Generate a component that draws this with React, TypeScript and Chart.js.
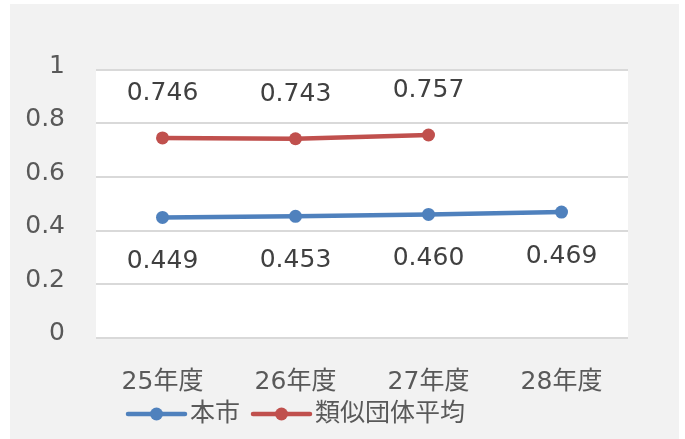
import React, { useEffect, useRef } from "react";
import { Chart, registerables } from "chart.js";

Chart.register(...registerables);

const categories = ["25年度", "26年度", "27年度", "28年度"];
const cityValues = [0.449, 0.453, 0.46, 0.469];
const peerValues: (number | null)[] = [0.746, 0.743, 0.757, null];
const seriesNames = ["本市", "類似団体平均"];
const yTicks = [0, 0.2, 0.4, 0.6, 0.8, 1];

const BLUE = "#4f81bd";
const RED = "#c0504d";
const FONT = "'DejaVu Sans', 'Noto Sans CJK JP', sans-serif";
const FONT_SIZE = 25;

const backgroundPlugin = {
  id: "bgPlugin",
  beforeDraw(chart: any) {
    const { ctx, chartArea } = chart;
    ctx.save();
    ctx.fillStyle = "#f2f2f2";
    ctx.fillRect(10, 4, 669, 435);
    ctx.fillStyle = "#ffffff";
    ctx.fillRect(chartArea.left, chartArea.top, chartArea.right - chartArea.left, chartArea.bottom - chartArea.top);
    ctx.restore();
  },
};

const dataLabelPlugin = {
  id: "dataLabels",
  afterDatasetsDraw(chart: any) {
    const { ctx } = chart;
    ctx.save();
    ctx.font = `${FONT_SIZE}px ${FONT}`;
    ctx.fillStyle = "#404040";
    ctx.textAlign = "center";
    ctx.textBaseline = "middle";
    chart.data.datasets.forEach((ds: any, di: number) => {
      const meta = chart.getDatasetMeta(di);
      meta.data.forEach((pt: any, i: number) => {
        const v = ds.data[i];
        if (v === null || v === undefined) return;
        const off = di === 0 ? 44.5 : -44.5;
        ctx.fillText(v.toFixed(3), pt.x, pt.y + off);
      });
    });
    ctx.restore();
  },
};

const legendPlugin = {
  id: "customLegend",
  afterDraw(chart: any) {
    const { ctx } = chart;
    ctx.save();
    ctx.font = `${FONT_SIZE}px ${FONT}`;
    ctx.textBaseline = "middle";
    ctx.textAlign = "left";
    let x = 128;
    const y = 414;
    chart.data.datasets.forEach((ds: any) => {
      ctx.strokeStyle = ds.borderColor;
      ctx.lineWidth = 4.5;
      ctx.lineCap = "round";
      ctx.beginPath();
      ctx.moveTo(x, y);
      ctx.lineTo(x + 57, y);
      ctx.stroke();
      ctx.fillStyle = ds.borderColor;
      ctx.beginPath();
      ctx.arc(x + 28.5, y, 6.5, 0, Math.PI * 2);
      ctx.fill();
      ctx.fillStyle = "#595959";
      ctx.fillText(ds.label, x + 62, y);
      x += 62 + ctx.measureText(ds.label).width + 13;
    });
    ctx.restore();
  },
};

export default function App() {
  const ref = useRef<HTMLCanvasElement | null>(null);
  useEffect(() => {
    if (!ref.current) return;
    const chart = new Chart(ref.current, {
      type: "line",
      data: {
        labels: categories,
        datasets: [
          {
            label: seriesNames[0],
            data: cityValues,
            borderColor: BLUE,
            backgroundColor: BLUE,
            borderWidth: 4.5,
            pointRadius: 6.5,
            pointBackgroundColor: BLUE,
            pointBorderWidth: 0,
            tension: 0,
          },
          {
            label: seriesNames[1],
            data: peerValues,
            borderColor: RED,
            backgroundColor: RED,
            borderWidth: 4.5,
            pointRadius: 6.5,
            pointBackgroundColor: RED,
            pointBorderWidth: 0,
            tension: 0,
          },
        ],
      },
      options: {
        responsive: false,
        animation: false,
        layout: { padding: { left: 10, top: 70, right: 57, bottom: 0 } },
        plugins: {
          legend: { display: false },
          tooltip: { enabled: false },
        },
        scales: {
          x: {
            offset: true,
            grid: { display: false, drawTicks: false },
            border: { display: false },
            ticks: {
              padding: 30,
              color: "#595959",
              font: { family: FONT, size: FONT_SIZE },
              maxRotation: 0,
            },
            afterFit(scale: any) {
              scale.height = 101.5;
            },
          },
          y: {
            min: 0,
            max: 1,
            afterBuildTicks(scale: any) {
              scale.ticks = yTicks.map((v) => ({ value: v }));
            },
            grid: { color: "#d9d9d9", lineWidth: 2, drawTicks: false },
            border: { display: false },
            ticks: {
              padding: 31,
              labelOffset: -4,
              color: "#595959",
              font: { family: FONT, size: FONT_SIZE },
              callback: (v: any) => String(v),
            },
            afterFit(scale: any) {
              scale.width = 86;
            },
          },
        },
      },
      plugins: [backgroundPlugin, dataLabelPlugin, legendPlugin],
    });
    return () => chart.destroy();
  }, []);
  return (
    <div style={{ position: "absolute", left: 0, top: 0, width: 685, height: 439 }}>
      <canvas ref={ref} width={685} height={439} />
    </div>
  );
}
